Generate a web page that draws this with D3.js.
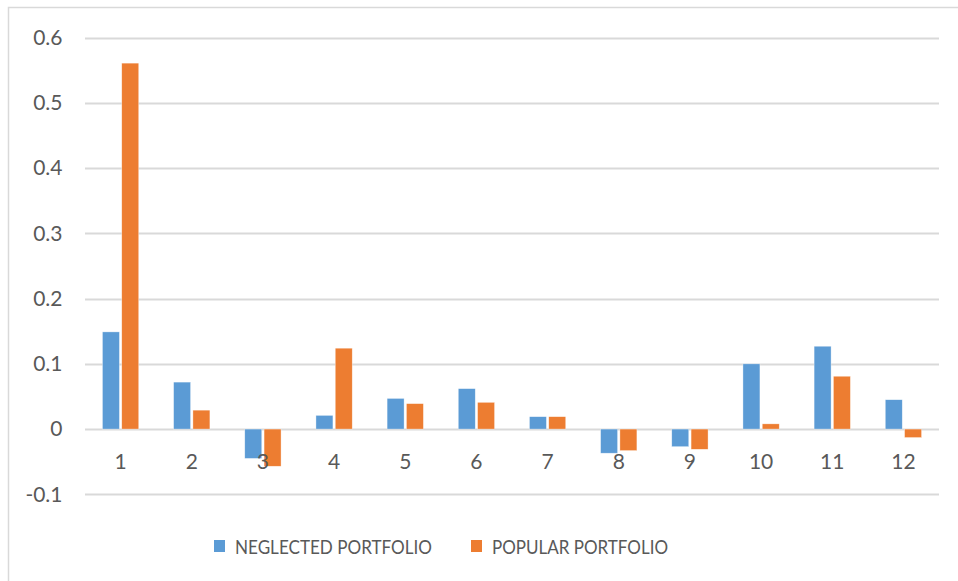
<!DOCTYPE html>
<html>
<head>
<meta charset="utf-8">
<script src="https://cdn.jsdelivr.net/npm/d3@7"></script>
<style>
  html, body { margin: 0; padding: 0; background: #fff; }
  svg { display: block; }
  text { font-family: Lato, "Open Sans", sans-serif; fill: #595959; }
</style>
</head>
<body>
<svg id="chart" width="958" height="581"></svg>
<script>
const categories = ["1","2","3","4","5","6","7","8","9","10","11","12"];
const seriesNames = ["NEGLECTED PORTFOLIO", "POPULAR PORTFOLIO"];
const neglected = [0.149, 0.072, -0.045, 0.021, 0.047, 0.062, 0.019, -0.037, -0.027, 0.100, 0.127, 0.045];
const popular   = [0.561, 0.029, -0.057, 0.124, 0.039, 0.041, 0.019, -0.033, -0.031, 0.008, 0.081, -0.013];
const yTicks = [-0.1, 0, 0.1, 0.2, 0.3, 0.4, 0.5, 0.6];
const yTickLabels = ["-0.1", "0", "0.1", "0.2", "0.3", "0.4", "0.5", "0.6"];
const colors = ["#5B9BD5", "#ED7D31"];

const svg = d3.select("#chart");
const plot = { left: 85, right: 939, top: 37.7, bottom: 494.3 };

// outer border
svg.append("rect")
  .attr("x", 8.5).attr("y", 7.5).attr("width", 970).attr("height", 600)
  .attr("fill", "none").attr("stroke", "#d9d9d9").attr("stroke-width", 1.5);

const y = d3.scaleLinear().domain([-0.1, 0.6]).range([plot.bottom, plot.top]);
const x = d3.scaleBand().domain(categories).range([plot.left, plot.right])
  .paddingInner(0.49).paddingOuter(0.245);
const xs = d3.scaleBand().domain([0, 1]).range([0, x.bandwidth()]).paddingInner(0.12);

// gridlines
svg.append("g").selectAll("line").data(yTicks).join("line")
  .attr("x1", plot.left).attr("x2", plot.right)
  .attr("y1", d => Math.round(y(d)) + 0.5).attr("y2", d => Math.round(y(d)) + 0.5)
  .attr("stroke", "#d9d9d9").attr("stroke-width", 1.8);

// y axis labels
const yAxis = d3.axisLeft(y).tickValues(yTicks).tickSize(0).tickPadding(0)
  .tickFormat((d, i) => yTickLabels[i]);
const gy = svg.append("g").attr("transform", "translate(62.5,0)").call(yAxis);
gy.select(".domain").remove();
gy.selectAll("text").style("font-size", "21px").attr("fill", "#595959")
  .style("font-family", "Lato, 'Open Sans', sans-serif");

// bars
const data = categories.map((c, i) => ({ c, vals: [neglected[i], popular[i]] }));
const groups = svg.append("g").selectAll("g").data(data).join("g")
  .attr("transform", d => `translate(${x(d.c)},0)`);
groups.selectAll("rect").data(d => d.vals.map((v, k) => ({ v, k }))).join("rect")
  .attr("x", d => xs(d.k))
  .attr("width", xs.bandwidth())
  .attr("y", d => y(Math.max(0, d.v)))
  .attr("height", d => Math.abs(y(d.v) - y(0)))
  .attr("fill", d => colors[d.k])
  .attr("stroke", "#ffffff").attr("stroke-width", 0.6).attr("stroke-opacity", 0.6);

// x axis labels
const xAxis = d3.axisBottom(x).tickSize(0).tickPadding(0);
const gx = svg.append("g").attr("transform", `translate(0,${y(0) + 33})`).call(xAxis);
gx.select(".domain").remove();
gx.selectAll("text").style("font-size", "21px").attr("fill", "#595959")
  .attr("dy", "0.35em").attr("y", 0)
  .style("font-family", "Lato, 'Open Sans', sans-serif");

// legend
const legendItems = [
  { name: seriesNames[0], color: colors[0], sx: 214, tx: 235, tw: 197 },
  { name: seriesNames[1], color: colors[1], sx: 471, tx: 492, tw: 176 }
];
const lg = svg.append("g");
lg.selectAll("rect").data(legendItems).join("rect")
  .attr("x", d => d.sx).attr("y", 540).attr("width", 11).attr("height", 12)
  .attr("fill", d => d.color);
lg.selectAll("text").data(legendItems).join("text")
  .attr("x", d => d.tx).attr("y", 553.5)
  .attr("textLength", d => d.tw).attr("lengthAdjust", "spacingAndGlyphs")
  .style("font-size", "20px")
  .text(d => d.name);
</script>
</body>
</html>
